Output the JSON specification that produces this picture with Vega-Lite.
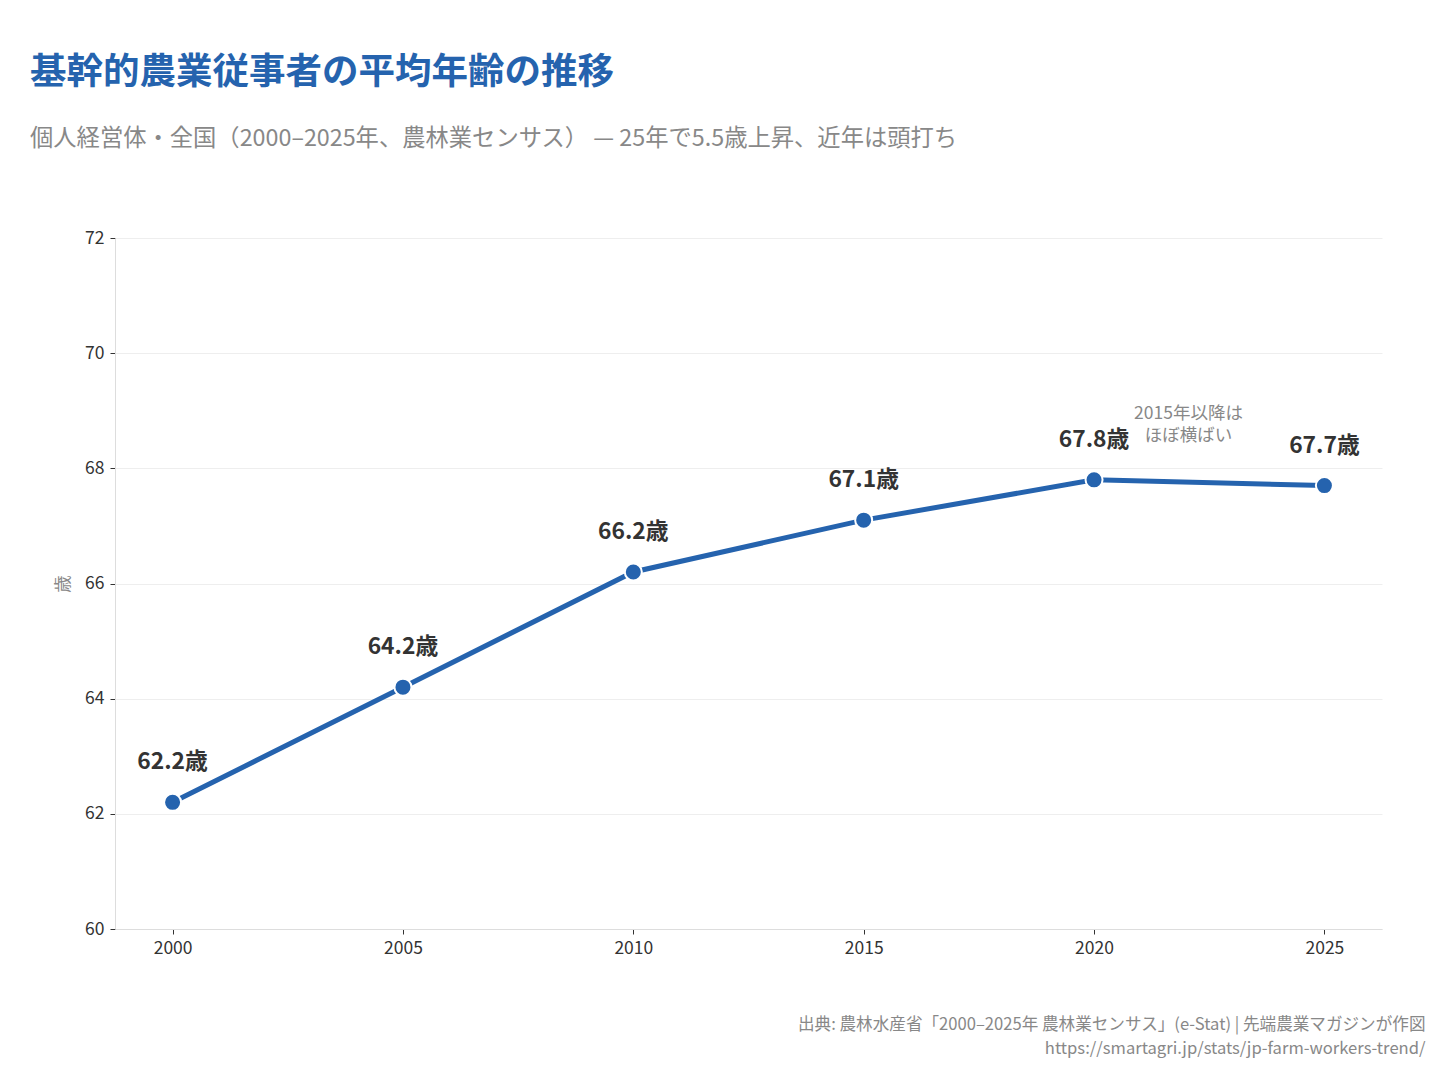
{
  "$schema": "https://vega.github.io/schema/vega-lite/v6.json",
  "width": 1267,
  "height": 691,
  "autosize": {"type": "none"},
  "padding": {"left": 115, "top": 238, "right": 58, "bottom": 151},
  "background": "white",
  "config": {
    "font": "Noto Sans CJK JP",
    "view": {"stroke": null}
  },
  "title": {
    "text": "基幹的農業従事者の平均年齢の推移",
    "subtitle": "個人経営体・全国（2000–2025年、農林業センサス） — 25年で5.5歳上昇、近年は頭打ち",
    "anchor": "start",
    "frame": "group",
    "dx": -85,
    "offset": 79,
    "fontSize": 36.5,
    "fontWeight": "bold",
    "color": "#2563AE",
    "subtitleFontSize": 23.3,
    "subtitleColor": "#888888",
    "subtitlePadding": 36,
    "font": "Noto Sans CJK JP",
    "subtitleFont": "Noto Sans CJK JP"
  },
  "datasets": {
    "ages": [
      {"year": 2000, "age": 62.2, "label": "62.2歳"},
      {"year": 2005, "age": 64.2, "label": "64.2歳"},
      {"year": 2010, "age": 66.2, "label": "66.2歳"},
      {"year": 2015, "age": 67.1, "label": "67.1歳"},
      {"year": 2020, "age": 67.8, "label": "67.8歳"},
      {"year": 2025, "age": 67.7, "label": "67.7歳"}
    ],
    "note": [
      {"year": 2022.05, "age": 68.95, "text": "2015年以降は\nほぼ横ばい"}
    ]
  },
  "encoding": {
    "x": {
      "field": "year",
      "type": "quantitative",
      "scale": {"domain": [1998.75, 2026.25], "nice": false, "zero": false},
      "axis": {
        "values": [2000, 2005, 2010, 2015, 2020, 2025],
        "format": "d",
        "grid": false,
        "domainColor": "#dddddd",
        "tickColor": "#333333",
        "tickSize": 5,
        "labelFontSize": 17.5,
        "labelColor": "#333333",
        "labelPadding": 5,
        "title": ["出典: 農林水産省「2000–2025年 農林業センサス」(e-Stat) | 先端農業マガジンが作図", "https://smartagri.jp/stats/jp-farm-workers-trend/"],
        "titleAnchor": "end",
        "titleAlign": "right",
        "titleBaseline": "top",
        "titleX": 1310,
        "titleY": 87,
        "titleFontSize": 16.6,
        "titleFontWeight": "normal",
        "titleColor": "#888888",
        "titleLineHeight": 24
      }
    },
    "y": {
      "field": "age",
      "type": "quantitative",
      "scale": {"domain": [60, 72], "nice": false, "zero": false},
      "axis": {
        "values": [60, 62, 64, 66, 68, 70, 72],
        "grid": true,
        "gridColor": "#eeeeee",
        "domainColor": "#dddddd",
        "tickColor": "#333333",
        "tickSize": 5,
        "labelFontSize": 17.5,
        "labelColor": "#333333",
        "labelPadding": 6,
        "title": "歳",
        "titleFontSize": 17.5,
        "titleFontWeight": "normal",
        "titleColor": "#888888",
        "titlePadding": 12
      }
    }
  },
  "layer": [
    {
      "data": {"name": "ages"},
      "mark": {"type": "line", "color": "#2563AE", "strokeWidth": 5}
    },
    {
      "data": {"name": "ages"},
      "mark": {"type": "point", "filled": true, "fill": "#2563AE", "stroke": "white", "strokeWidth": 2, "size": 290, "opacity": 1}
    },
    {
      "data": {"name": "ages"},
      "mark": {"type": "text", "dy": -40, "fontSize": 22.8, "fontWeight": "bold", "color": "#333333"},
      "encoding": {"text": {"field": "label"}}
    },
    {
      "data": {"name": "note"},
      "mark": {"type": "text", "fontSize": 17.5, "color": "#888888", "lineBreak": "\n", "lineHeight": 22, "baseline": "middle"},
      "encoding": {"text": {"field": "text"}}
    }
  ]
}
